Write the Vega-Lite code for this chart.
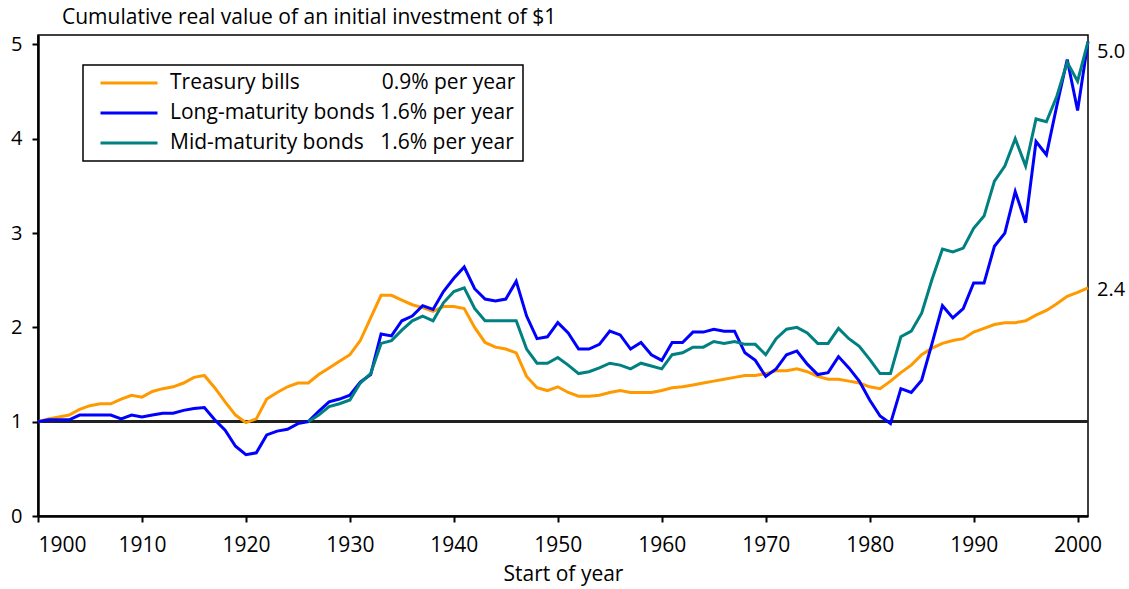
{
  "$schema": "https://vega.github.io/schema/vega-lite/v6.json",
  "width": 1050,
  "height": 481,
  "autosize": {"type": "none"},
  "padding": {"left": 38, "top": 35, "right": 41, "bottom": 73},
  "title": {"text": "Cumulative real value of an initial investment of $1", "anchor": "start", "frame": "group", "dx": 24, "offset": 6, "fontSize": 21, "fontWeight": "normal", "font": "Open Sans", "color": "black"},
  "data": {"values": [
    {"year": 1900, "t": 1.00, "l": 1.00},
    {"year": 1901, "t": 1.03, "l": 1.02},
    {"year": 1902, "t": 1.05, "l": 1.02},
    {"year": 1903, "t": 1.07, "l": 1.02},
    {"year": 1904, "t": 1.13, "l": 1.07},
    {"year": 1905, "t": 1.17, "l": 1.07},
    {"year": 1906, "t": 1.19, "l": 1.07},
    {"year": 1907, "t": 1.19, "l": 1.07},
    {"year": 1908, "t": 1.24, "l": 1.03},
    {"year": 1909, "t": 1.28, "l": 1.07},
    {"year": 1910, "t": 1.26, "l": 1.05},
    {"year": 1911, "t": 1.32, "l": 1.07},
    {"year": 1912, "t": 1.35, "l": 1.09},
    {"year": 1913, "t": 1.37, "l": 1.09},
    {"year": 1914, "t": 1.41, "l": 1.12},
    {"year": 1915, "t": 1.47, "l": 1.14},
    {"year": 1916, "t": 1.49, "l": 1.15},
    {"year": 1917, "t": 1.36, "l": 1.02},
    {"year": 1918, "t": 1.21, "l": 0.91},
    {"year": 1919, "t": 1.07, "l": 0.74},
    {"year": 1920, "t": 0.99, "l": 0.65},
    {"year": 1921, "t": 1.03, "l": 0.67},
    {"year": 1922, "t": 1.24, "l": 0.86},
    {"year": 1923, "t": 1.31, "l": 0.90},
    {"year": 1924, "t": 1.37, "l": 0.92},
    {"year": 1925, "t": 1.41, "l": 0.98},
    {"year": 1926, "t": 1.41, "l": 1.00, "m": 1.00},
    {"year": 1927, "t": 1.50, "l": 1.11, "m": 1.07},
    {"year": 1928, "t": 1.57, "l": 1.21, "m": 1.16},
    {"year": 1929, "t": 1.64, "l": 1.24, "m": 1.19},
    {"year": 1930, "t": 1.71, "l": 1.28, "m": 1.23},
    {"year": 1931, "t": 1.86, "l": 1.42, "m": 1.41},
    {"year": 1932, "t": 2.10, "l": 1.50, "m": 1.51},
    {"year": 1933, "t": 2.34, "l": 1.93, "m": 1.83},
    {"year": 1934, "t": 2.34, "l": 1.91, "m": 1.86},
    {"year": 1935, "t": 2.29, "l": 2.07, "m": 1.97},
    {"year": 1936, "t": 2.24, "l": 2.12, "m": 2.07},
    {"year": 1937, "t": 2.21, "l": 2.23, "m": 2.12},
    {"year": 1938, "t": 2.17, "l": 2.19, "m": 2.07},
    {"year": 1939, "t": 2.22, "l": 2.38, "m": 2.26},
    {"year": 1940, "t": 2.22, "l": 2.52, "m": 2.38},
    {"year": 1941, "t": 2.20, "l": 2.64, "m": 2.42},
    {"year": 1942, "t": 2.00, "l": 2.41, "m": 2.20},
    {"year": 1943, "t": 1.84, "l": 2.30, "m": 2.07},
    {"year": 1944, "t": 1.79, "l": 2.28, "m": 2.07},
    {"year": 1945, "t": 1.77, "l": 2.30, "m": 2.07},
    {"year": 1946, "t": 1.73, "l": 2.49, "m": 2.07},
    {"year": 1947, "t": 1.48, "l": 2.12, "m": 1.77},
    {"year": 1948, "t": 1.36, "l": 1.88, "m": 1.62},
    {"year": 1949, "t": 1.33, "l": 1.90, "m": 1.62},
    {"year": 1950, "t": 1.37, "l": 2.05, "m": 1.68},
    {"year": 1951, "t": 1.31, "l": 1.94, "m": 1.60},
    {"year": 1952, "t": 1.27, "l": 1.77, "m": 1.51},
    {"year": 1953, "t": 1.27, "l": 1.77, "m": 1.53},
    {"year": 1954, "t": 1.28, "l": 1.82, "m": 1.57},
    {"year": 1955, "t": 1.31, "l": 1.96, "m": 1.62},
    {"year": 1956, "t": 1.33, "l": 1.92, "m": 1.60},
    {"year": 1957, "t": 1.31, "l": 1.77, "m": 1.56},
    {"year": 1958, "t": 1.31, "l": 1.84, "m": 1.62},
    {"year": 1959, "t": 1.31, "l": 1.71, "m": 1.59},
    {"year": 1960, "t": 1.33, "l": 1.65, "m": 1.56},
    {"year": 1961, "t": 1.36, "l": 1.84, "m": 1.71},
    {"year": 1962, "t": 1.37, "l": 1.84, "m": 1.73},
    {"year": 1963, "t": 1.39, "l": 1.95, "m": 1.79},
    {"year": 1964, "t": 1.41, "l": 1.95, "m": 1.79},
    {"year": 1965, "t": 1.43, "l": 1.98, "m": 1.85},
    {"year": 1966, "t": 1.45, "l": 1.96, "m": 1.83},
    {"year": 1967, "t": 1.47, "l": 1.96, "m": 1.85},
    {"year": 1968, "t": 1.49, "l": 1.73, "m": 1.82},
    {"year": 1969, "t": 1.49, "l": 1.65, "m": 1.82},
    {"year": 1970, "t": 1.51, "l": 1.48, "m": 1.71},
    {"year": 1971, "t": 1.54, "l": 1.56, "m": 1.88},
    {"year": 1972, "t": 1.54, "l": 1.71, "m": 1.98},
    {"year": 1973, "t": 1.56, "l": 1.75, "m": 2.00},
    {"year": 1974, "t": 1.53, "l": 1.61, "m": 1.94},
    {"year": 1975, "t": 1.48, "l": 1.50, "m": 1.83},
    {"year": 1976, "t": 1.45, "l": 1.52, "m": 1.83},
    {"year": 1977, "t": 1.45, "l": 1.69, "m": 1.99},
    {"year": 1978, "t": 1.43, "l": 1.57, "m": 1.88},
    {"year": 1979, "t": 1.41, "l": 1.43, "m": 1.80},
    {"year": 1980, "t": 1.37, "l": 1.23, "m": 1.66},
    {"year": 1981, "t": 1.35, "l": 1.06, "m": 1.51},
    {"year": 1982, "t": 1.43, "l": 0.98, "m": 1.51},
    {"year": 1983, "t": 1.52, "l": 1.35, "m": 1.90},
    {"year": 1984, "t": 1.60, "l": 1.31, "m": 1.96},
    {"year": 1985, "t": 1.71, "l": 1.44, "m": 2.15},
    {"year": 1986, "t": 1.78, "l": 1.83, "m": 2.51},
    {"year": 1987, "t": 1.83, "l": 2.23, "m": 2.83},
    {"year": 1988, "t": 1.86, "l": 2.10, "m": 2.80},
    {"year": 1989, "t": 1.88, "l": 2.20, "m": 2.84},
    {"year": 1990, "t": 1.95, "l": 2.47, "m": 3.05},
    {"year": 1991, "t": 1.99, "l": 2.47, "m": 3.18},
    {"year": 1992, "t": 2.03, "l": 2.86, "m": 3.55},
    {"year": 1993, "t": 2.05, "l": 3.00, "m": 3.71},
    {"year": 1994, "t": 2.05, "l": 3.44, "m": 4.00},
    {"year": 1995, "t": 2.07, "l": 3.11, "m": 3.71},
    {"year": 1996, "t": 2.13, "l": 3.97, "m": 4.21},
    {"year": 1997, "t": 2.18, "l": 3.83, "m": 4.18},
    {"year": 1998, "t": 2.25, "l": 4.35, "m": 4.45},
    {"year": 1999, "t": 2.33, "l": 4.84, "m": 4.81},
    {"year": 2000, "t": 2.37, "l": 4.30, "m": 4.61},
    {"year": 2001, "t": 2.42, "l": 5.03, "m": 5.03}
  ]},
  "transform": [
    {"fold": ["t", "l", "m"], "as": ["series", "value"]},
    {"filter": "isValid(datum.value)"}
  ],
  "layer": [
    {
      "mark": {"type": "rule", "color": "#222222", "strokeWidth": 2},
      "encoding": {"y": {"datum": 1, "type": "quantitative"}}
    },
    {
      "mark": {"type": "line", "strokeWidth": 3, "strokeJoin": "miter"},
      "encoding": {
        "x": {"field": "year", "type": "quantitative", "scale": {"domain": [1900, 2001], "nice": false, "zero": false},
          "axis": {"values": [1900, 1910, 1920, 1930, 1940, 1950, 1960, 1970, 1980, 1990, 2000], "format": "d", "title": "Start of year"}},
        "y": {"field": "value", "type": "quantitative", "scale": {"domain": [0, 5.1], "nice": false},
          "axis": {"values": [0, 1, 2, 3, 4, 5], "format": "d", "title": null}},
        "color": {"field": "series", "type": "nominal",
          "scale": {"domain": ["t", "l", "m"], "range": ["#FF9900", "#0000FF", "#008080"]},
          "legend": {"title": null,
            "labelExpr": "datum.value == 't' ? 'Treasury bills\u00a0\u00a0\u00a0\u00a0\u00a0\u00a0\u00a0\u00a0\u00a0\u00a0\u00a0\u00a0\u00a0\u00a0 0.9% per year' : datum.value == 'l' ? 'Long-maturity bonds 1.6% per year' : 'Mid-maturity bonds\u00a0\u00a0 1.6% per year'"}}
      }
    },
    {
      "transform": [{"filter": "datum.year == 2001 && datum.series == 'm'"}],
      "mark": {"type": "text", "align": "left", "dx": 9, "dy": 10, "fontSize": 20, "font": "Open Sans", "color": "black"},
      "encoding": {
        "x": {"field": "year", "type": "quantitative"},
        "y": {"field": "value", "type": "quantitative"},
        "text": {"field": "value", "type": "quantitative", "format": ".1f"}
      }
    },
    {
      "transform": [{"filter": "datum.year == 2001 && datum.series == 't'"}],
      "mark": {"type": "text", "align": "left", "dx": 9, "dy": 2, "fontSize": 20, "font": "Open Sans", "color": "black"},
      "encoding": {
        "x": {"field": "year", "type": "quantitative"},
        "y": {"field": "value", "type": "quantitative"},
        "text": {"field": "value", "type": "quantitative", "format": ".1f"}
      }
    }
  ],
  "config": {
    "view": {"stroke": "black", "strokeWidth": 1.5},
    "axis": {"grid": false, "domainColor": "black", "domainWidth": 2.5, "tickColor": "black", "tickWidth": 2, "tickSize": 6,
      "labelColor": "black", "labelFont": "Open Sans", "titleFont": "Open Sans", "titleColor": "black", "titleFontWeight": "normal"},
    "axisX": {"labelFontSize": 21, "labelPadding": 12, "titleFontSize": 21, "titlePadding": 8},
    "axisY": {"labelFontSize": 20, "labelPadding": 10},
    "legend": {"orient": "none", "legendX": 45, "legendY": 30, "padding": 7, "strokeColor": "black", "strokeWidth": 1.5, "fillColor": "white",
      "labelFont": "Open Sans", "labelFontSize": 21, "labelColor": "black", "labelOffset": 11, "labelLimit": 800,
      "symbolType": "stroke", "symbolSize": 3249, "symbolStrokeWidth": 3, "clipHeight": 22, "rowPadding": 8, "symbolOffset": 9}
  }
}
